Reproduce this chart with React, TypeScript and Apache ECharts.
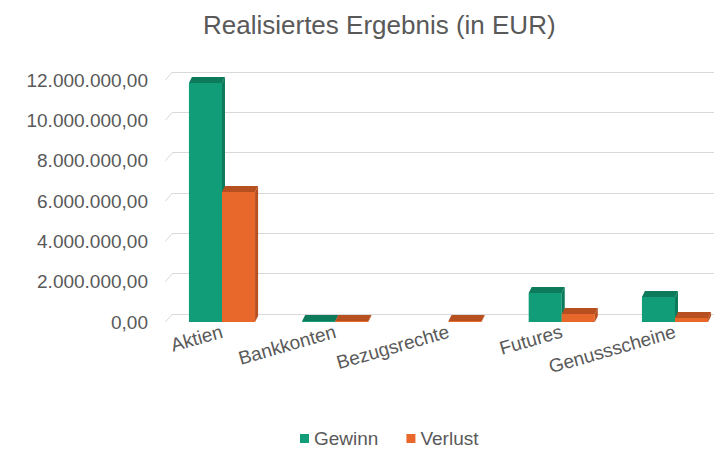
import React, { useEffect, useRef } from "react";
import * as echarts from "echarts";

const categories = ["Aktien", "Bankkonten", "Bezugsrechte", "Futures", "Genussscheine"];
const gewinn = [11850000, 50000, 0, 1440000, 1240000];
const verlust = [6450000, 50000, 50000, 400000, 200000];
const yTicks = [0, 2000000, 4000000, 6000000, 8000000, 10000000, 12000000];

const FONT = "'Liberation Sans', Arial, sans-serif";
const TEXT = "#595959";
const GRID = "#d9d9d9";
const GREEN = "#119d78";
const GREEN_TOP = "#0c7a5b";
const ORANGE = "#e8672a";
const ORANGE_TOP = "#b75020";

function fmtDE(v: number): string {
  const s = Math.round(v).toString();
  const withDots = s.replace(/\B(?=(\d{3})+(?!\d))/g, ".");
  return withDots + ",00";
}

const makeBar = (side: number, front: string, top: string) => (params: any, api: any) => {
  const cat = api.value(0);
  const val = api.value(1);
  if (!val) return null;
  const base = api.coord([cat, 0]);
  const tip = api.coord([cat, val]);
  const band = api.size([1, 0])[0];
  const w = band * 0.292;
  const x0 = side < 0 ? base[0] - w : base[0];
  const x1 = x0 + w;
  const yT = tip[1];
  const yB = base[1];
  const dx = 3;
  const dy = 6;
  return {
    type: "group",
    children: [
      { type: "rect", shape: { x: x0, y: yT, width: w, height: yB - yT }, style: { fill: front } },
      {
        type: "polygon",
        shape: { points: [[x1, yT], [x1 + dx, yT - dy], [x1 + dx, yB - dy], [x1, yB]] },
        style: { fill: top },
      },
      {
        type: "polygon",
        shape: { points: [[x0, yT], [x1, yT], [x1 + dx, yT - dy], [x0 + dx, yT - dy]] },
        style: { fill: top },
      },
    ],
  };
};

const slantTick = (params: any, api: any) => {
  const v = api.value(1);
  const p = api.coord([0, v]);
  const band = api.size([1, 0])[0];
  const x = params.coordSys.x - band / 2;
  return {
    type: "line",
    shape: { x1: x, y1: p[1], x2: x + 7, y2: p[1] - 8 },
    style: { stroke: GRID, lineWidth: 1 },
  };
};

export default function App() {
  const ref = useRef<HTMLDivElement>(null);
  useEffect(() => {
    if (!ref.current) return;
    const chart = echarts.init(ref.current, undefined, { renderer: "svg" });
    chart.setOption({
      animation: false,
      backgroundColor: "#ffffff",
      textStyle: { fontFamily: FONT },
      title: {
        text: "Realisiertes Ergebnis (in EUR)",
        left: 198,
        top: 7,
        textStyle: { fontFamily: FONT, fontSize: 26, fontWeight: "normal", color: TEXT },
      },
      legend: {
        data: ["Gewinn", "Verlust"],
        left: 300,
        top: 429,
        padding: 0,
        icon: "rect",
        itemWidth: 9,
        itemHeight: 9,
        itemGap: 28,
        textStyle: { fontFamily: FONT, fontSize: 19, lineHeight: 19, color: TEXT },
      },
      grid: [
        { left: 222, top: 80, height: 242, width: 453 },
        { left: 172, top: 72, height: 242, right: 0 },
      ],
      xAxis: [
        {
          type: "category",
          gridIndex: 0,
          data: categories,
          boundaryGap: false,
          axisLine: { show: false },
          axisTick: { show: false },
          axisLabel: { rotate: 16, fontSize: 19, color: TEXT, fontFamily: FONT, margin: 9, interval: 0 },
        },
        { type: "category", gridIndex: 1, data: categories, show: false },
      ],
      yAxis: [
        {
          type: "value",
          gridIndex: 0,
          min: 0,
          max: 12000000,
          interval: 2000000,
          splitLine: { show: false },
          axisLine: { show: false },
          axisTick: { show: false },
          axisLabel: {
            fontSize: 19,
            color: TEXT,
            fontFamily: FONT,
            margin: 74,
            formatter: (v: number) => fmtDE(v),
          },
        },
        {
          type: "value",
          gridIndex: 1,
          min: 0,
          max: 12000000,
          interval: 2000000,
          axisLine: { show: false },
          axisTick: { show: false },
          axisLabel: { show: false },
          splitLine: { show: true, lineStyle: { color: GRID, width: 1 } },
        },
      ],
      series: [
        {
          type: "custom",
          name: "ticks",
          xAxisIndex: 0,
          yAxisIndex: 0,
          data: yTicks.map((v) => [0, v]),
          renderItem: slantTick,
          silent: true,
          clip: false,
          z: 1,
        },
        {
          type: "custom",
          name: "Gewinn",
          xAxisIndex: 0,
          yAxisIndex: 0,
          itemStyle: { color: GREEN },
          data: gewinn.map((v, i) => [i, v]),
          encode: { x: 0, y: 1 },
          renderItem: makeBar(-1, GREEN, GREEN_TOP),
          clip: false,
          z: 3,
        },
        {
          type: "custom",
          name: "Verlust",
          xAxisIndex: 0,
          yAxisIndex: 0,
          itemStyle: { color: ORANGE },
          data: verlust.map((v, i) => [i, v]),
          encode: { x: 0, y: 1 },
          renderItem: makeBar(1, ORANGE, ORANGE_TOP),
          clip: false,
          z: 4,
        },
      ],
    });
    return () => chart.dispose();
  }, []);
  return <div ref={ref} style={{ position: "fixed", left: 0, top: 0, width: 714, height: 449 }} />;
}
